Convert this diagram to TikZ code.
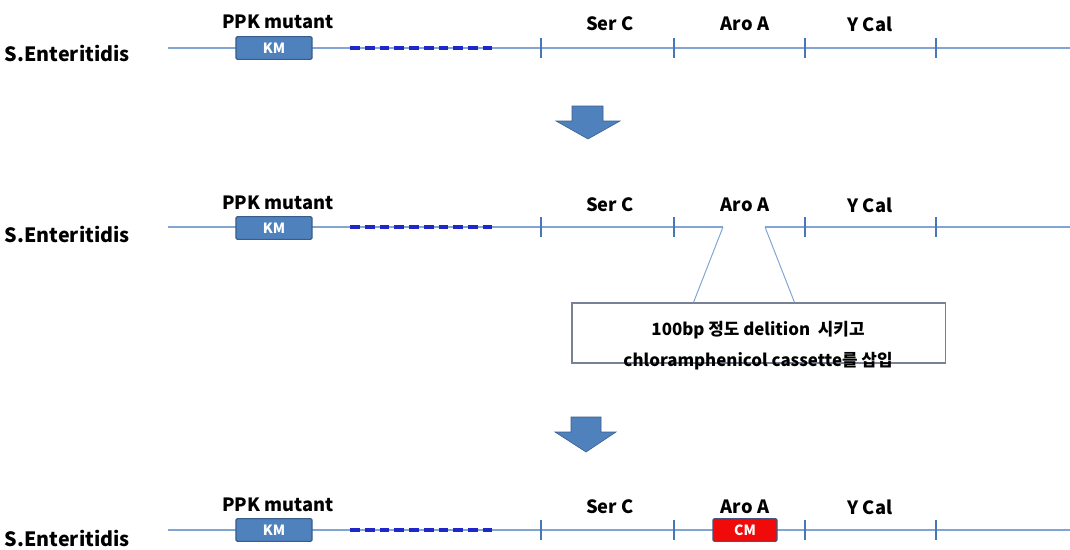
\documentclass[tikz,border=0pt]{standalone}
\usepackage{fontspec}
\setmainfont{Noto Sans CJK KR}
\newfontfamily\boxfont{Noto Sans CJK KR}
\usetikzlibrary{positioning}
\definecolor{chromline}{RGB}{130,165,210}
\definecolor{tickblue}{RGB}{70,120,185}
\definecolor{dashblue}{RGB}{30,40,200}
\definecolor{kmfill}{RGB}{79,129,189}
\definecolor{kmedge}{RGB}{56,93,138}
\definecolor{cmfill}{RGB}{240,10,10}
\definecolor{cmedge}{RGB}{70,85,125}
\definecolor{boxedge}{RGB}{120,130,150}
\tikzset{
  strain/.style={font=\fontsize{14}{14}\selectfont\bfseries, anchor=west},
  genelabel/.style={font=\fontsize{13}{13}\selectfont\bfseries},
  kmbox/.style={fill=kmfill, draw=kmedge, line width=0.8pt, rounded corners=1pt,
    minimum width=1.9cm, minimum height=0.57cm, inner sep=0pt,
    text=white, font=\fontsize{10}{10}\selectfont\bfseries},
  cmbox/.style={kmbox, fill=cmfill, draw=cmedge, minimum width=1.6cm},
  chrom/.style={draw=chromline, line width=1pt},
  genetick/.style={draw=tickblue, line width=2pt},
  gap/.style={draw=dashblue, line width=3pt, dash pattern=on 7pt off 3.5pt},
  bigarrow/.style={fill=kmfill, draw=kmedge, line width=0.4pt},
  notebox/.style={draw=boxedge, line width=0.8pt, minimum width=9.325cm,
    minimum height=1.5cm, inner sep=0pt}
}
\begin{document}
\begin{tikzpicture}[x=0.025cm, y=-0.025cm]
  \useasboundingbox (0,0) rectangle (1070,549);

  % row 1
  \node[strain] (s1) at (0, 53){S.Enteritidis};
  \draw[chrom] (168, 48) -- (1070, 48);
  \draw[gap] (350, 48) -- (492, 48);
  \foreach \tx in {541, 674, 805, 936}
    \draw[genetick] (\tx, 38) -- (\tx, 58);
  \node[kmbox] (km1) at (274, 48){KM};
  \node[genelabel] (ppk1) at (278, 22){PPK mutant};
  \node[genelabel] (ser1) at (610, 24){Ser C};
  \node[genelabel] (aro1) at (745, 24){Aro A};
  \node[genelabel] (yca1) at (870, 24){Y Cal};

  % arrow 1
  \draw[bigarrow] (572, 106) -- (603, 106) -- (603, 121) -- (620, 121)
    -- (588, 139) -- (556, 121) -- (572, 121) -- cycle;

  % row 2
  \node[strain] (s2) at (0, 234){S.Enteritidis};
  \coordinate (cutl) at (723, 227);
  \coordinate (cutr) at (765, 227);
  \draw[chrom] (168, 227) -- (cutl);
  \draw[chrom] (cutr) -- (1070, 227);
  \draw[gap] (350, 227) -- (492, 227);
  \foreach \tx in {541, 674, 805, 936}
    \draw[genetick] (\tx, 217) -- (\tx, 237);
  \node[kmbox] (km2) at (274, 228){KM};
  \node[genelabel] (ppk2) at (278, 203){PPK mutant};
  \node[genelabel] (ser2) at (610, 205){Ser C};
  \node[genelabel] (aro2) at (745, 205){Aro A};
  \node[genelabel] (yca2) at (870, 205){Y Cal};

  \node[notebox] (note) at (758.5, 333){};
  \node[font=\boxfont\fontsize{12}{12}\selectfont\bfseries] (note1) at (758, 330)
    {100bp 정도 delition~~시키고};
  \node[font=\boxfont\fontsize{12}{12}\selectfont\bfseries] (note2) at (758, 361)
    {chloramphenicol cassette를 삽입};
  \draw[chrom, line width=0.7pt] (cutl) -- ([xshift=-65*0.025cm]note.north);
  \draw[chrom, line width=0.7pt] (cutr) -- ([xshift=36*0.025cm]note.north);

  % arrow 2
  \draw[bigarrow] (571, 417) -- (601, 417) -- (601, 432) -- (616, 432)
    -- (586, 452) -- (555, 432) -- (571, 432) -- cycle;

  % row 3
  \node[strain] (s3) at (0, 538){S.Enteritidis};
  \draw[chrom] (168, 530) -- (1070, 530);
  \draw[gap] (350, 530) -- (492, 530);
  \foreach \tx in {541, 674, 805, 936}
    \draw[genetick] (\tx, 520) -- (\tx, 540);
  \node[kmbox] (km3) at (274, 530){KM};
  \node[cmbox] (cm3) at (745, 530){CM};
  \node[genelabel] (ppk3) at (278, 505){PPK mutant};
  \node[genelabel] (ser3) at (610, 507){Ser C};
  \node[genelabel] (aro3) at (745, 507){Aro A};
  \node[genelabel] (yca3) at (870, 507){Y Cal};
\end{tikzpicture}
\end{document}
